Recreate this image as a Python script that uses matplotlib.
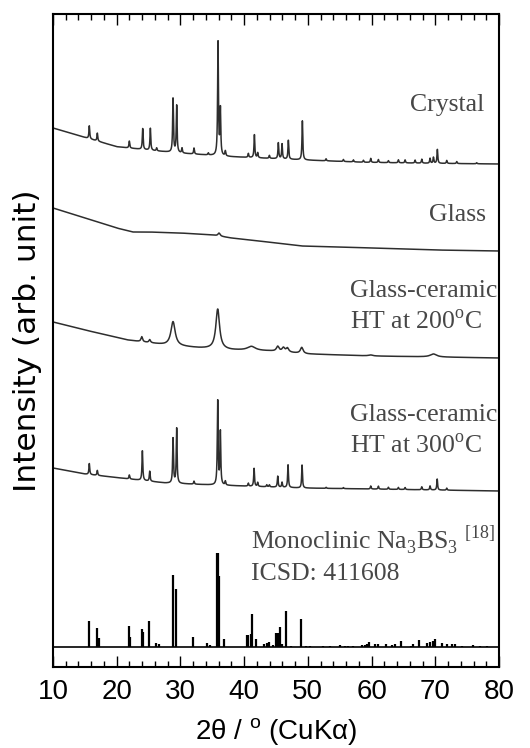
import numpy as np
import matplotlib
matplotlib.use("Agg")
import matplotlib.pyplot as plt
from matplotlib.ticker import MultipleLocator

plt.rcParams['mathtext.fontset'] = 'custom'
plt.rcParams['mathtext.rm'] = 'Liberation Serif'

# ---- data (2theta in degrees, intensities in arb. units) ----
# backgrounds: knots (2theta, intensity above each trace's own minimum)
cry_bg_x = [10, 14.6, 20, 26.3, 30.3, 37.9, 49.5, 58.8, 69.2, 80]
cry_bg_y = [36, 27.3, 17.3, 13, 10.7, 7.3, 4, 1.7, 0.7, 0]
cry_pk_x = [15.70, 16.96, 21.98, 24.08, 25.28, 26.27, 28.84, 29.41, 30.25, 32.13,
            34.38, 35.90, 36.27, 37.05, 40.66, 41.61, 42.13, 43.96, 45.37, 45.95,
            46.94, 49.14, 52.86, 55.58, 57.15, 58.72, 59.87, 61.07, 62.64, 64.21,
            65.26, 66.83, 67.88, 69.18, 69.71, 70.33, 71.8, 73.37, 76.5]
cry_pk_h = [13, 8, 7, 21, 22, 3, 54, 47, 5, 6,
            2, 114, 46, 5, 4, 23, 5, 3, 16, 15,
            19, 39, 2, 2, 2, 2, 4, 3, 2, 3,
            3, 3, 4, 5, 6, 14, 3, 2, 1]

gls_bg_x = [10, 15, 20, 22.5, 25, 30, 35, 38, 41, 45, 49, 55, 60, 70, 80]
gls_bg_y = [43, 33, 23, 19, 19, 18, 16, 13, 11, 8, 5, 4, 3, 1, 0]
gls_pk_x = [36.06]
gls_pk_h = [3]

gc2_bg_x = [10, 15, 21.7, 27.6, 33, 38, 44, 50, 60, 70, 80]
gc2_bg_y = [36, 28, 18, 13, 10, 8, 7, 4, 2, 1, 0]
gc2_pk_x = [23.93, 25.18, 28.84, 35.85, 41.14, 45.27, 46.16, 46.79, 49.04, 59.87, 69.71]
gc2_pk_h = [5, 3, 24, 40, 4, 5, 4, 4, 6, 1, 3]
gc2_pk_w = [0.3, 0.3, 0.8, 0.7, 1.5, 0.5, 0.5, 0.5, 0.5, 0.8, 1.2]

gc3_bg_x = [10, 15, 22, 27.6, 35, 49, 65, 80]
gc3_bg_y = [23, 17, 12, 8, 6, 3, 1.5, 0]
gc3_pk_x = [15.70, 16.96, 21.98, 24.03, 25.18, 28.84, 29.41, 32.13, 35.85, 36.27,
            37.05, 40.66, 41.56, 42.13, 43.55, 43.96, 45.27, 45.95, 46.89, 49.09,
            52.86, 55.58, 59.87, 61.07, 62.64, 64.21, 65.26, 67.88, 69.18, 70.3, 71.8]
gc3_pk_h = [11, 5, 4, 30, 10, 45, 55, 3, 84, 53,
            4, 3, 18, 4, 2, 2, 11, 5, 23, 23,
            1, 1, 3, 3, 2, 2, 2, 3, 4, 11, 2]

# reference pattern (ICSD 411608) sticks
ref_x = [15.70, 16.86, 17.17, 21.88, 22.09, 23.93, 24.08, 25.07, 26.12, 26.64,
         28.79, 29.31, 32.03, 34.12, 34.64, 35.69, 35.85, 36.06, 36.85, 40.40,
         40.66, 41.03, 41.30, 41.87, 43.18, 43.55, 43.86, 44.49, 45.07, 45.33,
         45.59, 45.95, 46.63, 47.42, 48.93, 49.72, 50.34, 52.44, 53.48, 55.05,
         55.84, 56.36, 57.15, 58.46, 58.98, 59.24, 59.56, 60.55, 61.07, 62.22,
         63.17, 63.69, 64.68, 66.15, 66.57, 67.46, 68.66, 69.18, 69.71, 69.97,
         71.01, 71.8, 72.59, 73.11, 74.16, 75.99, 77.04, 78.09]
ref_h = [26, 19, 9, 21, 10, 18, 15, 26, 4, 3,
         72, 58, 10, 4, 2, 94, 94, 71, 8, 12,
         12, 13, 33, 8, 3, 4, 5, 2, 14, 14,
         20, 3, 36, 1, 28, 1, 1, 1, 1, 2,
         1, 1, 1, 2, 2, 3, 5, 3, 3, 3,
         2, 3, 6, 1, 3, 7, 4, 5, 6, 8,
         4, 3, 3, 3, 1, 2, 1, 1]

# vertical offsets of the stacked traces
off_cry, off_gls, off_gc2, off_gc3, off_ref = 503, 416, 309, 176, 20

tt = np.linspace(10, 80, 4000)


def pattern(bx, by, px, ph, pw=None, w0=0.15):
    y = np.interp(tt, bx, by)
    if pw is None:
        pw = [w0] * len(px)
    for c, h, w in zip(px, ph, pw):
        y += h / (1 + ((tt - c) / (w / 2)) ** 2)
    return y


fig = plt.figure(figsize=(5.3, 7.48), dpi=100)
ax = fig.add_axes([0.1, 0.1083, 0.8415, 0.873])

lc = '#2e2e2e'
ax.plot(tt, off_cry + pattern(cry_bg_x, cry_bg_y, cry_pk_x, cry_pk_h), color=lc, lw=1.1)
ax.plot(tt, off_gls + pattern(gls_bg_x, gls_bg_y, gls_pk_x, gls_pk_h, w0=0.4), color=lc, lw=1.1)
ax.plot(tt, off_gc2 + pattern(gc2_bg_x, gc2_bg_y, gc2_pk_x, gc2_pk_h, gc2_pk_w), color=lc, lw=1.1)
ax.plot(tt, off_gc3 + pattern(gc3_bg_x, gc3_bg_y, gc3_pk_x, gc3_pk_h), color=lc, lw=1.1)

ax.axhline(off_ref, color='black', lw=1.2)
ax.vlines(ref_x, off_ref, off_ref + np.array(ref_h), color='black', lw=1.6)

tc = '#474747'
fs = 18.5
ser = 'Liberation Serif'
ax.text(77.7, 556, 'Crystal', ha='right', va='baseline', fontsize=fs, family=ser, color=tc)
ax.text(78.0, 446, 'Glass', ha='right', va='baseline', fontsize=fs, family=ser, color=tc)
ax.text(56.6, 370, 'Glass-ceramic', ha='left', va='baseline', fontsize=fs, family=ser, color=tc)
ax.text(56.6, 338, r'HT at 200$^\mathregular{o}$C', ha='left', va='baseline', fontsize=fs, family=ser, color=tc)
ax.text(56.6, 246, 'Glass-ceramic', ha='left', va='baseline', fontsize=fs, family=ser, color=tc)
ax.text(56.6, 214, r'HT at 300$^\mathregular{o}$C', ha='left', va='baseline', fontsize=fs, family=ser, color=tc)
ax.text(41.1, 118, r'Monoclinic Na$_\mathregular{3}$BS$_\mathregular{3}$ $^\mathregular{[18]}$',
        ha='left', va='baseline', fontsize=fs, family=ser, color=tc)
ax.text(41.1, 87, 'ICSD: 411608', ha='left', va='baseline', fontsize=fs, family=ser, color=tc)

sans = 'Liberation Sans'
ax.set_xlim(10, 80)
ax.set_ylim(0, 653)
ax.xaxis.set_major_locator(MultipleLocator(10))
ax.xaxis.set_minor_locator(MultipleLocator(2))
ax.tick_params(axis='x', which='both', direction='in', top=True, bottom=True,
               labelsize=20, pad=9)
ax.tick_params(axis='x', which='major', length=8, width=1)
ax.tick_params(axis='x', which='minor', length=4.5, width=1)
ax.set_yticks([])
for lab in ax.get_xticklabels():
    lab.set_family(sans)
for s in ax.spines.values():
    s.set_linewidth(1.5)

ax.set_xlabel(r'2θ / $^\mathregular{o}$ (CuKα)', fontsize=20, family=sans, labelpad=8)
ax.set_ylabel('Intensity (arb. unit)', fontsize=22.5, family='DejaVu Sans', labelpad=8)

fig.savefig('out.png', dpi=100)
